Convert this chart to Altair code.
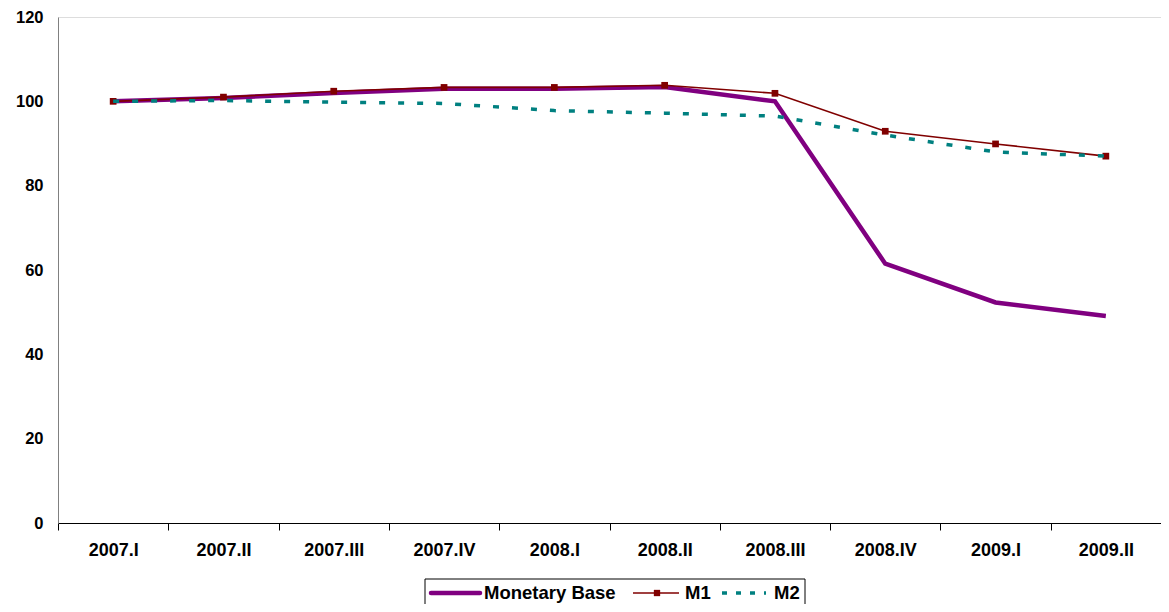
import altair as alt
import pandas as pd

quarters = ["2007.I", "2007.II", "2007.III", "2007.IV", "2008.I",
            "2008.II", "2008.III", "2008.IV", "2009.I", "2009.II"]
monetary_base = [100.0, 100.8, 102.0, 103.0, 103.0, 103.4, 100.0, 61.5, 52.3, 49.1]
m1 = [100.0, 101.0, 102.4, 103.3, 103.3, 103.8, 101.9, 92.9, 89.9, 87.0]
m2 = [100.0, 100.2, 99.8, 99.5, 97.8, 97.2, 96.5, 92.0, 88.0, 87.0]
y_ticks = [0, 20, 40, 60, 80, 100, 120]

FONT = "Liberation Sans"
PURPLE = "#800080"
DARKRED = "#800000"
TEAL = "#008080"

df = pd.DataFrame({"q": quarters, "mb": monetary_base, "m1": m1, "m2": m2})

x_enc = alt.X(
    "q:O", sort=quarters, bandPosition=0.5,
    scale=alt.Scale(type="band", paddingInner=0, paddingOuter=0),
    axis=alt.Axis(title=None, labelAngle=0, tickBand="extent", tickSize=7,
                  tickColor="black", domainColor="black", labelPadding=11,
                  labelFont=FONT, labelFontWeight="bold", labelFontSize=18,
                  labelColor="black", grid=False),
)

def y_enc(field):
    return alt.Y(
        f"{field}:Q",
        scale=alt.Scale(domain=[0, 120], nice=False, zero=True),
        axis=alt.Axis(title=None, values=y_ticks, grid=False, ticks=False,
                      domainColor="#808080", labelPadding=15,
                      labelFont=FONT, labelFontWeight="bold", labelFontSize=16.5,
                      labelColor="black"),
    )

base = alt.Chart(df)
mb_line = base.mark_line(color=PURPLE, strokeWidth=4.5).encode(x=x_enc, y=y_enc("mb"))
m1_line = base.mark_line(color=DARKRED, strokeWidth=1.6).encode(x=x_enc, y=y_enc("m1"))
m1_pts = base.mark_square(color=DARKRED, size=45, opacity=1).encode(x=x_enc, y=y_enc("m1"))
m2_line = base.mark_line(color=TEAL, strokeWidth=3.5, strokeDash=[6, 13]).encode(x=x_enc, y=y_enc("m2"))

# legend (decoration), positions in pixels relative to the plot area
LY = 576
one = alt.Chart(pd.DataFrame({"a": [0]}))
leg_box = one.mark_rect(fill="white", stroke="black", strokeWidth=1).encode(
    x=alt.value(367), x2=alt.value(747), y=alt.value(562), y2=alt.value(610))
leg_mb = one.mark_rule(color=PURPLE, strokeWidth=4.5, strokeCap="round").encode(
    x=alt.value(373), x2=alt.value(422), y=alt.value(LY))
leg_mb_t = one.mark_text(text="Monetary Base", align="left", baseline="middle",
                         font=FONT, fontWeight="bold", fontSize=18.5, color="black").encode(
    x=alt.value(426), y=alt.value(LY))
leg_m1 = one.mark_rule(color=DARKRED, strokeWidth=1.6).encode(
    x=alt.value(575), x2=alt.value(621), y=alt.value(LY))
leg_m1_p = one.mark_square(color=DARKRED, size=40, opacity=1).encode(
    x=alt.value(599), y=alt.value(LY))
leg_m1_t = one.mark_text(text="M1", align="left", baseline="middle",
                         font=FONT, fontWeight="bold", fontSize=18.5, color="black").encode(
    x=alt.value(627), y=alt.value(LY))
leg_m2 = one.mark_rule(color=TEAL, strokeWidth=3.5, strokeDash=[5, 9]).encode(
    x=alt.value(664), x2=alt.value(708), y=alt.value(LY))
leg_m2_t = one.mark_text(text="M2", align="left", baseline="middle",
                         font=FONT, fontWeight="bold", fontSize=18.5, color="black").encode(
    x=alt.value(716), y=alt.value(LY))

chart = alt.layer(
    mb_line, m1_line, m1_pts, m2_line,
    leg_box, leg_mb, leg_mb_t, leg_m1, leg_m1_p, leg_m1_t, leg_m2, leg_m2_t,
).properties(
    width=1103, height=506,
    autosize=alt.AutoSizeParams(type="none"),
    padding={"left": 50, "top": 9, "right": 0, "bottom": 81},
).configure_view(
    stroke="#808080", strokeWidth=1, clip=False
).configure(background="white")

chart.save("out.html", embed_options={"renderer": "svg", "actions": False})
